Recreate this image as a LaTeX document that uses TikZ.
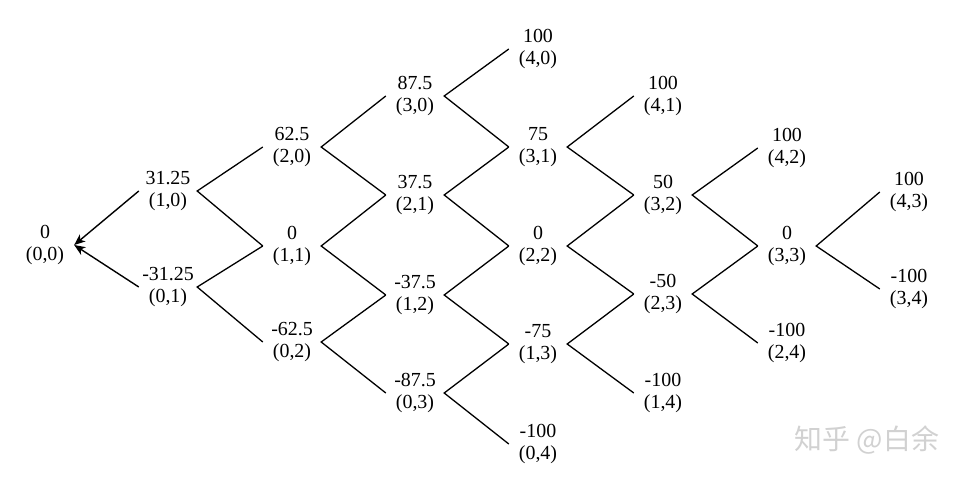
\documentclass[tikz,border=0pt]{standalone}
\usepackage{fontspec}
\setmainfont{Liberation Serif}
\newfontfamily\cjk{Noto Sans CJK SC}
\usetikzlibrary{arrows.meta}
\begin{document}
\begin{tikzpicture}[x=1bp,y=-1bp,
  st/.style={minimum width=58bp, inner sep=0pt, align=center, font=\fontsize{20}{22.5}\selectfont},
  ln/.style={line width=1.3bp},
  ar/.style={line width=1.4bp, -{Stealth[length=11bp,width=9bp,inset=3bp]}}]
\useasboundingbox (0,0) rectangle (969,478);
% column 0
\node[st] (a00) at (45,245) {0\\(0,0)};
% column 1
\node[st] (a10) at (168,191) {31.25\\(1,0)};
\node[st] (a01) at (168,287) {-31.25\\(0,1)};
% column 2
\node[st] (a20) at (292,147) {62.5\\(2,0)};
\node[st] (a11) at (292,246) {0\\(1,1)};
\node[st] (a02) at (292,342) {-62.5\\(0,2)};
% column 3
\node[st] (a30) at (415,96) {87.5\\(3,0)};
\node[st] (a21) at (415,195) {37.5\\(2,1)};
\node[st] (a12) at (415,295) {-37.5\\(1,2)};
\node[st] (a03) at (415,393) {-87.5\\(0,3)};
% column 4
\node[st] (a40) at (538,49) {100\\(4,0)};
\node[st] (a31) at (538,147) {75\\(3,1)};
\node[st] (a22) at (538,246) {0\\(2,2)};
\node[st] (a13) at (538,344) {-75\\(1,3)};
\node[st] (a04) at (538,444) {-100\\(0,4)};
% column 5
\node[st] (a41) at (663,96) {100\\(4,1)};
\node[st] (a32) at (663,195) {50\\(3,2)};
\node[st] (a23) at (663,294) {-50\\(2,3)};
\node[st] (a14) at (663,393) {-100\\(1,4)};
% column 6
\node[st] (a42) at (787,148) {100\\(4,2)};
\node[st] (a33) at (787,246) {0\\(3,3)};
\node[st] (a24) at (787,343) {-100\\(2,4)};
% column 7
\node[st] (a43) at (909,192) {100\\(4,3)};
\node[st] (a34) at (909,289) {-100\\(3,4)};
% arrows
\draw[ar] (a10.west) -- (a00.east);
\draw[ar] (a01.west) -- (a00.east);
% lines
\draw[ln] (a20.west) -- (a10.east) -- (a11.west);
\draw[ln] (a11.west) -- (a01.east) -- (a02.west);
\draw[ln] (a30.west) -- (a20.east) -- (a21.west);
\draw[ln] (a21.west) -- (a11.east) -- (a12.west);
\draw[ln] (a12.west) -- (a02.east) -- (a03.west);
\draw[ln] (a40.west) -- (a30.east) -- (a31.west);
\draw[ln] (a31.west) -- (a21.east) -- (a22.west);
\draw[ln] (a22.west) -- (a12.east) -- (a13.west);
\draw[ln] (a13.west) -- (a03.east) -- (a04.west);
\draw[ln] (a41.west) -- (a31.east) -- (a32.west);
\draw[ln] (a32.west) -- (a22.east) -- (a23.west);
\draw[ln] (a23.west) -- (a13.east) -- (a14.west);
\draw[ln] (a42.west) -- (a32.east) -- (a33.west);
\draw[ln] (a33.west) -- (a23.east) -- (a24.west);
\draw[ln] (a43.west) -- (a33.east) -- (a34.west);
% watermark
\node[text=black!18, font=\cjk\fontsize{28}{30}\selectfont, inner sep=0pt] (wm) at (867,440) {知乎 @白余};
\end{tikzpicture}
\end{document}
